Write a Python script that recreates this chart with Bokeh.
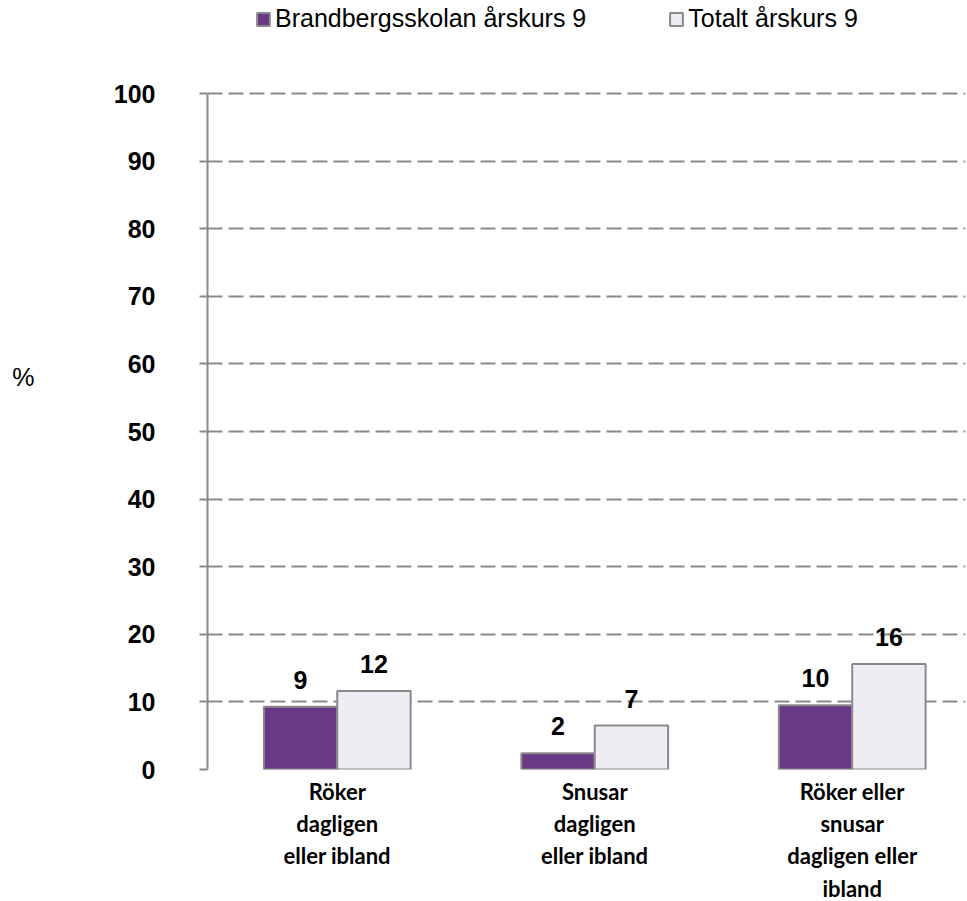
from bokeh.plotting import figure
from bokeh.models import Range1d, FixedTicker, ColumnDataSource, Legend, LegendItem, LinearAxis
from bokeh.core.properties import value
from bokeh.embed import file_html
from bokeh.resources import INLINE

categories = ["Röker\ndagligen\neller ibland", "Snusar\ndagligen\neller ibland", "Röker eller\nsnusar\ndagligen eller\nibland"]
series_names = ["Brandbergsskolan årskurs 9", "Totalt årskurs 9"]
school = [9.3, 2.4, 9.5]
total = [11.6, 6.5, 15.6]
y_ticks = [0, 10, 20, 30, 40, 50, 60, 70, 80, 90, 100]
y_unit_label = "%"

PURPLE = "#693886"
LIGHT = "#EFECF4"
GRAY = "#8a8a8a"

idx = list(range(len(categories)))
bw = 0.285
src_s = ColumnDataSource(dict(x=[i - bw / 2 for i in idx], top=school,
                              lbl=[str(int(v + 0.5)) for v in school]))
src_t = ColumnDataSource(dict(x=[i + bw / 2 for i in idx], top=total,
                              lbl=[str(int(v + 0.5)) for v in total]))

# frame spans from the top of the canvas; y axis is bounded to 0..100
p = figure(width=967, height=901, output_backend="svg", toolbar_location=None,
           x_range=Range1d(-0.504, 2.44), y_range=Range1d(0, 113.76),
           min_border_left=207, min_border_top=0, min_border_bottom=132, min_border_right=2)
p.frame_width = 758
p.frame_height = 769
p.outline_line_color = None
p.background_fill_color = "white"
p.border_fill_color = "white"

r1 = p.vbar(x="x", top="top", width=bw, source=src_s, fill_color=PURPLE,
            line_color=GRAY, line_width=2)
r2 = p.vbar(x="x", top="top", width=bw, source=src_t, fill_color=LIGHT,
            line_color=GRAY, line_width=2)

for src in (src_s, src_t):
    p.text(x="x", y="top", text="lbl", source=src, text_align="center",
           text_baseline="alphabetic", y_offset=-27, text_font_size="25px",
           text_font_style="bold", text_font=value("Liberation Sans"), text_color="black")

# x axis
p.xaxis.ticker = FixedTicker(ticks=idx)
p.xaxis.major_label_overrides = {i: c for i, c in zip(idx, categories)}
p.xaxis.axis_line_color = None
p.xaxis.major_tick_line_color = None
p.xaxis.minor_tick_line_color = None
p.xaxis.major_label_text_font = "Lato"
p.xaxis.major_label_text_font_style = "bold"
p.xaxis.major_label_text_font_size = "22px"
p.xaxis.major_label_text_line_height = 1.2
p.xaxis.major_label_text_color = "black"
p.xaxis.major_label_standoff = 2

# y axis
p.yaxis.ticker = FixedTicker(ticks=y_ticks)
p.yaxis.bounds = (y_ticks[0], y_ticks[-1])
p.yaxis.axis_line_color = GRAY
p.yaxis.axis_line_width = 2
p.yaxis.major_tick_line_color = GRAY
p.yaxis.major_tick_line_width = 2
p.yaxis.major_tick_out = 8
p.yaxis.major_tick_in = 0
p.yaxis.minor_tick_line_color = None
p.yaxis.major_label_text_font = "Liberation Sans"
p.yaxis.major_label_text_font_style = "bold"
p.yaxis.major_label_text_font_size = "25px"
p.yaxis.major_label_text_color = "black"
p.yaxis.major_label_standoff = 44

# "%" unit shown as a single horizontal label left of the axis
unit_axis = LinearAxis(ticker=FixedTicker(ticks=[58]), major_label_overrides={58: y_unit_label},
                       axis_line_color=None, major_tick_line_color=None, minor_tick_line_color=None,
                       major_label_text_font="Liberation Sans", major_label_text_font_size="25px",
                       major_label_text_color="black", major_label_standoff=70)
p.add_layout(unit_axis, "left")

p.xgrid.grid_line_color = None
p.ygrid.grid_line_color = GRAY
p.ygrid.grid_line_width = 2
p.ygrid.grid_line_dash = "15 6"

legend = Legend(items=[LegendItem(label=series_names[0], renderers=[r1]),
                       LegendItem(label=series_names[1], renderers=[r2])],
                orientation="horizontal", location=(48, 736),
                glyph_width=16, glyph_height=16, label_standoff=4, spacing=82,
                padding=0, margin=0, border_line_color=None, background_fill_alpha=0,
                label_text_font="Liberation Sans", label_text_font_size="25px",
                label_text_color="black")
p.add_layout(legend, "center")

open("out.html", "w").write(file_html(p, INLINE))
